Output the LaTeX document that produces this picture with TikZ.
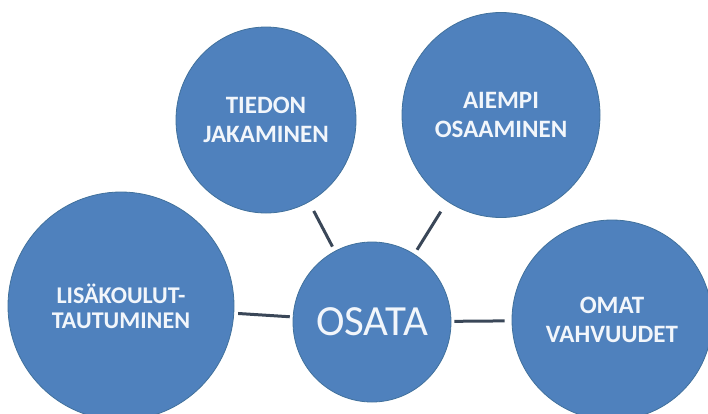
\documentclass[tikz,border=0pt]{standalone}
\usepackage{fontspec}
\setmainfont{Carlito}
\usetikzlibrary{shapes.geometric}
\definecolor{bub}{HTML}{4F81BD}
\definecolor{bubedge}{HTML}{41719C}
\definecolor{linkc}{HTML}{3A4758}
\definecolor{txtc}{HTML}{F2F6FB}
\begin{document}
\begin{tikzpicture}[x=1pt,y=-1pt,
  bubble/.style={ellipse, fill=bub, draw=bubedge, line width=0.8pt, inner sep=0pt},
  btext/.style={text=txtc, align=center, inner sep=0pt,
    font=\fontsize{25}{29}\selectfont\bfseries},
  link/.style={draw=linkc, line width=3pt}]
\useasboundingbox (0,0) rectangle (708,413);
\clip (0,0) rectangle (708,413);

\node[bubble, minimum width=180pt, minimum height=186pt] (tied) at (266,120) {};
\node[bubble, minimum width=198pt, minimum height=205pt] (aiem) at (501,115) {};
\node[bubble, minimum width=226pt, minimum height=228pt] (lisa) at (121,306) {};
\node[bubble, minimum width=200pt, minimum height=200pt] (omat) at (612,320) {};
\node[bubble, minimum width=158pt, minimum height=160pt] (osata) at (372,322) {};

\node[btext] (tiedt) at (tied) {TIEDON\\JAKAMINEN};
\node[btext] (aiemt) at (aiem) {AIEMPI\\OSAAMINEN};
\node[btext, font=\fontsize{24}{25}\selectfont\bfseries] (lisat) at (lisa) {LISÄKOULUT-\\TAUTUMINEN};
\node[btext] (omatt) at (omat) {OMAT\\VAHVUUDET};
\node[text=txtc, inner sep=0pt, font=\fontsize{43}{48}\selectfont] (osatat) at (osata) {OSATA};

\draw[link, shorten <=10pt, shorten >=5pt] (tied) -- (osata);
\draw[link, shorten <=12pt, shorten >=5pt] (aiem) -- (osata);
\draw[link, shorten <=4pt, shorten >=3pt] (lisa) -- (osata);
\draw[link, shorten <=3pt, shorten >=7pt] (osata) -- (omat);
\end{tikzpicture}
\end{document}
